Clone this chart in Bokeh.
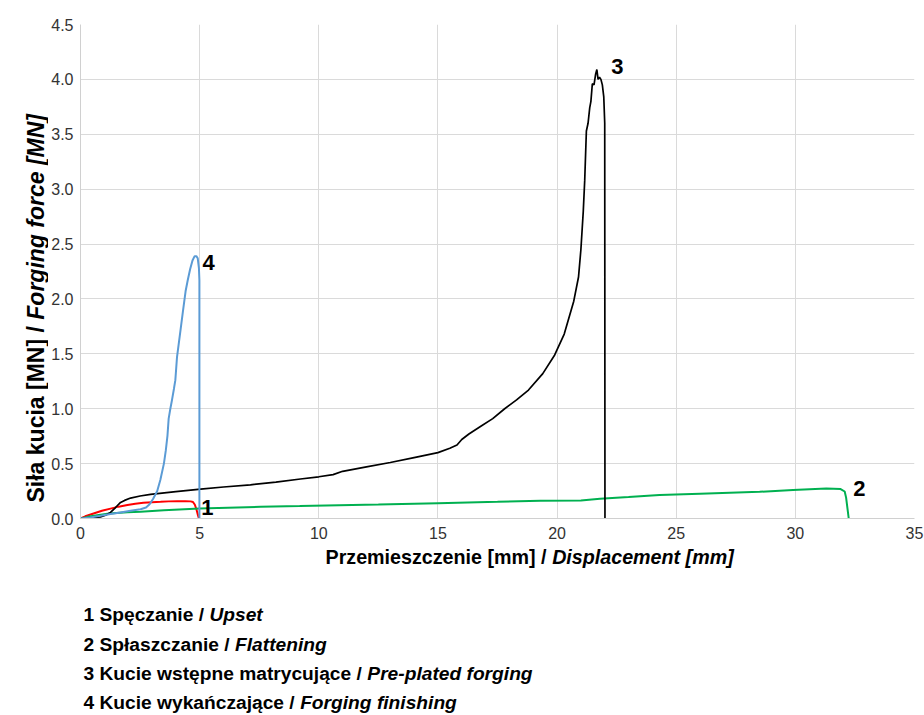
import math
from bokeh.plotting import figure
from bokeh.layouts import row, column
from bokeh.models import Range1d, FixedTicker, PrintfTickFormatter, ColumnDataSource
from bokeh.embed import file_html
from bokeh.resources import INLINE
from bokeh.core.properties import value

# ---------------- data ----------------
upset_x = [0, 0.2, 0.55, 0.9, 1.26, 1.6, 1.97, 2.3, 2.64, 3.0, 3.36, 3.7, 4.06, 4.4, 4.62, 4.72, 4.8, 4.87, 4.93, 4.97]
upset_y = [0, 0.02, 0.045, 0.07, 0.09, 0.108, 0.123, 0.134, 0.143, 0.148, 0.152, 0.156, 0.158, 0.158, 0.156, 0.15, 0.125, 0.08, 0.03, 0.0]

flat_x = [0, 0.3, 0.7, 1.2, 1.97, 2.52, 3.5, 5.0, 7.55, 9.2, 12.5, 15.0, 17.5, 19.3, 21.0, 21.8, 23.0, 24.3, 26.0, 28.5, 29.9, 31.3, 31.9, 32.07, 32.13, 32.24]
flat_y = [0, 0.015, 0.03, 0.045, 0.057, 0.062, 0.075, 0.09, 0.107, 0.113, 0.128, 0.14, 0.152, 0.162, 0.165, 0.18, 0.195, 0.213, 0.225, 0.243, 0.259, 0.274, 0.268, 0.246, 0.19, 0.0]

pre_x = [0, 0.4, 0.84, 1.05, 1.26, 1.47, 1.68, 1.85, 2.1, 2.5, 2.94, 4.0, 5.04, 6.0, 7.13, 8.2, 9.23, 10.0, 10.6, 11.0,
         12.0, 13.0, 14.0, 15.0, 15.5, 15.8, 16.0, 16.3, 16.8, 17.3, 17.8, 18.3, 18.8, 19.4, 19.9, 20.3, 20.7, 20.9,
         21.0, 21.1, 21.16, 21.23, 21.3, 21.37, 21.42, 21.48, 21.55, 21.62, 21.67, 21.72, 21.78, 21.84, 21.9, 21.96, 22.0, 22.01]
pre_y = [0, 0.005, 0.015, 0.03, 0.055, 0.1, 0.146, 0.165, 0.186, 0.205, 0.22, 0.245, 0.268, 0.287, 0.307, 0.332, 0.36, 0.38, 0.4, 0.43,
         0.47, 0.51, 0.555, 0.6, 0.64, 0.67, 0.72, 0.77, 0.84, 0.91, 1.0, 1.08, 1.17, 1.32, 1.49, 1.68, 1.98, 2.2,
         2.45, 2.8, 3.08, 3.53, 3.6, 3.74, 3.8, 3.96, 3.95, 4.05, 4.09, 4.0, 4.02, 4.0, 3.95, 3.84, 3.6, 0.0]

fin_x = [0, 0.4, 0.84, 1.26, 1.68, 2.1, 2.52, 2.75, 2.9, 3.05, 3.22, 3.35, 3.5, 3.58, 3.65, 3.7, 3.77, 3.84, 3.92, 3.98,
         4.05, 4.2, 4.3, 4.41, 4.5, 4.6, 4.7, 4.79, 4.86, 4.92, 4.97, 4.99, 4.99]
fin_y = [0, 0.01, 0.025, 0.04, 0.055, 0.07, 0.085, 0.1, 0.13, 0.18, 0.25, 0.35, 0.5, 0.62, 0.755, 0.91, 1.0, 1.08, 1.18, 1.26,
         1.47, 1.72, 1.89, 2.07, 2.17, 2.27, 2.35, 2.39, 2.39, 2.37, 2.28, 2.17, 0.0]

curve_labels = ["1", "2", "3", "4"]
curve_label_x = [5.32, 32.69, 22.53, 5.38]
curve_label_y = [0.10, 0.269, 4.12, 2.336]

x_ticks = [0, 5, 10, 15, 20, 25, 30, 35]
y_ticks = [0.0, 0.5, 1.0, 1.5, 2.0, 2.5, 3.0, 3.5, 4.0, 4.5]

xlabel_pl, xlabel_en = "Przemieszczenie [mm] /", "Displacement [mm]"
ylabel_pl, ylabel_en = "Siła kucia [MN] /", "Forging force [MN]"
legend_pl = ["1 Spęczanie /", "2 Spłaszczanie /", "3 Kucie wstępne matrycujące /", "4 Kucie wykańczające /"]
legend_en = ["Upset", "Flattening", "Pre-plated forging", "Forging finishing"]

# ---------------- layout ----------------
W, H = 924, 715
LEFT_W = 48            # strip holding the rotated y-axis title
MAIN_H = 545           # main chart height (frame + x tick labels)
FL, FR = 80, 914       # page x of the plot frame's left / right edges
FONT = "Liberation Sans"

# Liberation Sans Bold advance widths (per 1000 em)
WT = {' ': 278, '/': 278, '[': 333, ']': 333, '-': 333, '.': 278,
      'a': 556, 'b': 611, 'c': 556, 'd': 611, 'e': 556, 'f': 333, 'g': 611, 'h': 611, 'i': 278, 'j': 278,
      'k': 556, 'l': 278, 'm': 889, 'n': 611, 'o': 611, 'p': 611, 'q': 611, 'r': 389, 's': 556, 't': 333,
      'u': 611, 'v': 556, 'w': 778, 'x': 556, 'y': 556, 'z': 500,
      'ę': 556, 'ą': 556, 'ł': 278, 'ń': 611,
      'D': 722, 'F': 611, 'K': 722, 'M': 833, 'N': 722, 'P': 667, 'S': 667, 'U': 722}
for d in "0123456789":
    WT[d] = 556


def tw(s, size):
    return sum(WT.get(c, 556) for c in s) * size / 1000.0


def blank(w, h, x0, y0, bl=0, br=0):
    """A figure whose data coordinates are page pixels (x right, y = H - page_y)."""
    f = figure(width=w, height=h, x_range=Range1d(x0 + bl, x0 + w - br), y_range=Range1d(H - (y0 + h), H - y0),
               x_axis_type=None, y_axis_type=None, output_backend="svg", toolbar_location=None,
               min_border=0, min_border_left=bl, min_border_right=br, min_border_top=0, min_border_bottom=0)
    f.outline_line_color = None
    f.background_fill_color = "white"
    f.border_fill_color = "white"
    return f


def put(f, text, px, py, size, style, angle=0.0):
    f.text(x=[px], y=[H - py], text=[text], angle=angle, text_font=value(FONT), text_font_style=style,
           text_font_size=f"{size}px", text_align="left", text_baseline="middle", text_color="black")


# ---- main chart ----
p = figure(width=W - LEFT_W, height=MAIN_H, x_range=Range1d(0, 35), y_range=Range1d(0, 4.5),
           output_backend="svg", toolbar_location=None,
           min_border_left=FL - LEFT_W, min_border_right=W - FR, min_border_top=24, min_border_bottom=MAIN_H - 518)
p.outline_line_color = None
p.background_fill_color = "white"
p.border_fill_color = "white"

p.xaxis.ticker = FixedTicker(ticks=x_ticks)
p.yaxis.ticker = FixedTicker(ticks=y_ticks)
p.yaxis.formatter = PrintfTickFormatter(format="%.1f")
for ax in (p.xaxis, p.yaxis):
    ax.axis_line_color = "#d0d0d0"
    ax.major_tick_line_color = None
    ax.minor_tick_line_color = None
    ax.major_tick_out = 0
    ax.major_tick_in = 0
    ax.major_label_text_font = FONT
    ax.major_label_text_font_size = "16px"
    ax.major_label_text_color = "#333333"
p.xaxis.major_label_standoff = 8
p.yaxis.major_label_standoff = 7
p.xgrid.grid_line_color = "#dadada"
p.ygrid.grid_line_color = "#dadada"

p.line(upset_x, upset_y, line_color="#ff0000", line_width=2)
p.line(flat_x, flat_y, line_color="#00b050", line_width=2)
p.line(pre_x, pre_y, line_color="#000000", line_width=1.7)
p.line(fin_x, fin_y, line_color="#5b9bd5", line_width=2)

src = ColumnDataSource(dict(x=curve_label_x, y=curve_label_y, t=curve_labels))
p.text(x="x", y="y", text="t", source=src, text_font=value(FONT), text_font_style="bold",
       text_font_size="22px", text_align="center", text_baseline="middle", text_color="black")

# ---- y axis title strip (rotated, reading bottom to top) ----
left = blank(LEFT_W, H, 0, 0)
ys = 23
yc = 35.5                      # centre line of the rotated text
y0 = 502                       # where the title starts (bottom)
put(left, ylabel_pl, yc, y0, ys, "bold", math.pi / 2)
put(left, ylabel_en, yc, y0 - tw(ylabel_pl + " ", ys), ys, "bold italic", math.pi / 2)

# ---- x axis title and legend text below the chart (frame aligned with the chart's frame) ----
bottom = blank(W - LEFT_W, H - MAIN_H, LEFT_W, MAIN_H, bl=FL - LEFT_W, br=W - FR)


def two_part(f, pl, en, px, py, size):
    put(f, pl, px, py, size, "bold")
    put(f, en, px + tw(pl + " ", size), py, size, "bold italic")


two_part(bottom, xlabel_pl, xlabel_en, 325, 556.3, 19.7)

rows_py = [614, 643.5, 673, 701.5]
for pl, en, ry in zip(legend_pl, legend_en, rows_py):
    two_part(bottom, pl, en, 83, ry, 19.2)

layout = row(left, column(p, bottom, spacing=0), spacing=0)
open("out.html", "w").write(file_html(layout, INLINE))
